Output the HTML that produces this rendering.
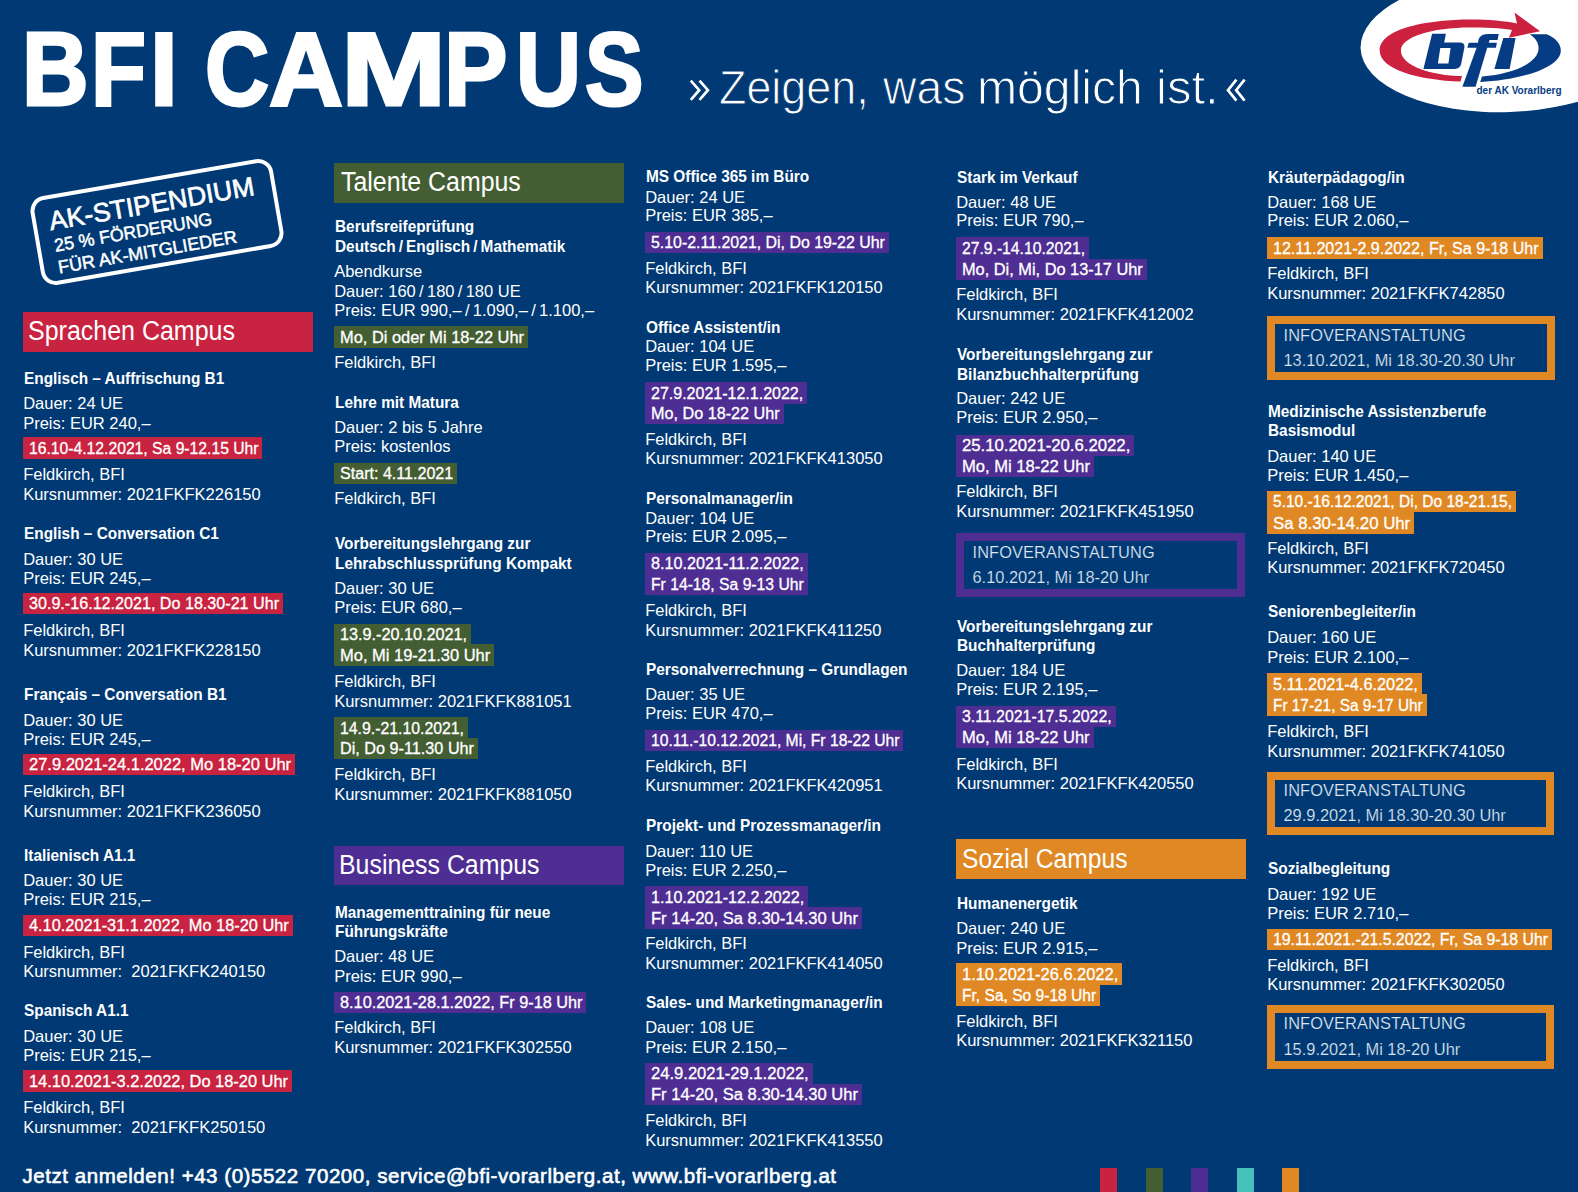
<!DOCTYPE html>
<html><head><meta charset="utf-8"><title>BFI Campus</title>
<style>
html,body{margin:0;padding:0;}
body{width:1578px;height:1192px;overflow:hidden;position:relative;background:#003973;font-family:"Liberation Sans",sans-serif;color:#fff;}
.t{position:absolute;white-space:pre;transform-origin:0 0;}
.b{position:absolute;}
</style></head><body>
<div class="b" style="left:22.60px;top:312.00px;width:290.00px;height:39.60px;background:#c82341;"></div>
<div class="t" style="left:27.88px;top:317.94px;font-size:27px;line-height:27px;transform:scaleX(0.9256);">Sprachen Campus</div>
<div class="t" style="left:23.50px;top:369.63px;font-size:16.5px;line-height:16.5px;font-weight:bold;transform:scaleX(0.9320);">Englisch – Auffrischung B1</div>
<div class="t" style="left:23.15px;top:394.63px;font-size:16.5px;line-height:16.5px;">Dauer: 24 UE</div>
<div class="t" style="left:23.15px;top:414.63px;font-size:16.5px;line-height:16.5px;">Preis: EUR 240,–</div>
<div class="b" style="left:22.80px;top:437.40px;width:239.70px;height:21.60px;background:#c82341;"></div>
<div class="t" style="left:29.00px;top:440.96px;font-size:16.0px;line-height:16.0px;transform:scaleX(0.9811);-webkit-text-stroke:0.3px #fff;">16.10-4.12.2021, Sa 9-12.15 Uhr</div>
<div class="t" style="left:23.15px;top:466.13px;font-size:16.5px;line-height:16.5px;">Feldkirch, BFI</div>
<div class="t" style="left:23.15px;top:485.63px;font-size:16.5px;line-height:16.5px;">Kursnummer: 2021FKFK226150</div>
<div class="t" style="left:23.50px;top:525.13px;font-size:16.5px;line-height:16.5px;font-weight:bold;transform:scaleX(0.9320);">English – Conversation C1</div>
<div class="t" style="left:23.15px;top:550.63px;font-size:16.5px;line-height:16.5px;">Dauer: 30 UE</div>
<div class="t" style="left:23.15px;top:569.63px;font-size:16.5px;line-height:16.5px;">Preis: EUR 245,–</div>
<div class="b" style="left:22.80px;top:592.90px;width:260.20px;height:21.60px;background:#c82341;"></div>
<div class="t" style="left:29.00px;top:596.46px;font-size:16.0px;line-height:16.0px;transform:scaleX(1.0075);-webkit-text-stroke:0.3px #fff;">30.9.-16.12.2021, Do 18.30-21 Uhr</div>
<div class="t" style="left:23.15px;top:622.13px;font-size:16.5px;line-height:16.5px;">Feldkirch, BFI</div>
<div class="t" style="left:23.15px;top:641.63px;font-size:16.5px;line-height:16.5px;">Kursnummer: 2021FKFK228150</div>
<div class="t" style="left:23.50px;top:686.13px;font-size:16.5px;line-height:16.5px;font-weight:bold;transform:scaleX(0.9320);">Français – Conversation B1</div>
<div class="t" style="left:23.15px;top:711.63px;font-size:16.5px;line-height:16.5px;">Dauer: 30 UE</div>
<div class="t" style="left:23.15px;top:730.63px;font-size:16.5px;line-height:16.5px;">Preis: EUR 245,–</div>
<div class="b" style="left:22.80px;top:753.90px;width:272.20px;height:21.60px;background:#c82341;"></div>
<div class="t" style="left:29.00px;top:757.46px;font-size:16.0px;line-height:16.0px;transform:scaleX(1.0300);-webkit-text-stroke:0.3px #fff;">27.9.2021-24.1.2022, Mo 18-20 Uhr</div>
<div class="t" style="left:23.15px;top:783.13px;font-size:16.5px;line-height:16.5px;">Feldkirch, BFI</div>
<div class="t" style="left:23.15px;top:802.63px;font-size:16.5px;line-height:16.5px;">Kursnummer: 2021FKFK236050</div>
<div class="t" style="left:23.50px;top:847.13px;font-size:16.5px;line-height:16.5px;font-weight:bold;transform:scaleX(0.9320);">Italienisch A1.1</div>
<div class="t" style="left:23.15px;top:872.23px;font-size:16.5px;line-height:16.5px;">Dauer: 30 UE</div>
<div class="t" style="left:23.15px;top:891.23px;font-size:16.5px;line-height:16.5px;">Preis: EUR 215,–</div>
<div class="b" style="left:22.80px;top:914.90px;width:269.90px;height:21.60px;background:#c82341;"></div>
<div class="t" style="left:29.00px;top:918.46px;font-size:16.0px;line-height:16.0px;transform:scaleX(1.0209);-webkit-text-stroke:0.3px #fff;">4.10.2021-31.1.2022, Mo 18-20 Uhr</div>
<div class="t" style="left:23.15px;top:943.63px;font-size:16.5px;line-height:16.5px;">Feldkirch, BFI</div>
<div class="t" style="left:23.15px;top:963.33px;font-size:16.5px;line-height:16.5px;">Kursnummer:  2021FKFK240150</div>
<div class="t" style="left:23.50px;top:1002.13px;font-size:16.5px;line-height:16.5px;font-weight:bold;transform:scaleX(0.9320);">Spanisch A1.1</div>
<div class="t" style="left:23.15px;top:1027.63px;font-size:16.5px;line-height:16.5px;">Dauer: 30 UE</div>
<div class="t" style="left:23.15px;top:1047.13px;font-size:16.5px;line-height:16.5px;">Preis: EUR 215,–</div>
<div class="b" style="left:22.80px;top:1070.40px;width:269.20px;height:21.60px;background:#c82341;"></div>
<div class="t" style="left:29.00px;top:1073.96px;font-size:16.0px;line-height:16.0px;transform:scaleX(1.0253);-webkit-text-stroke:0.3px #fff;">14.10.2021-3.2.2022, Do 18-20 Uhr</div>
<div class="t" style="left:23.15px;top:1098.83px;font-size:16.5px;line-height:16.5px;">Feldkirch, BFI</div>
<div class="t" style="left:23.15px;top:1118.63px;font-size:16.5px;line-height:16.5px;">Kursnummer:  2021FKFK250150</div>
<div class="b" style="left:333.60px;top:163.00px;width:290.00px;height:39.60px;background:#445e34;"></div>
<div class="t" style="left:341.30px;top:169.14px;font-size:27px;line-height:27px;transform:scaleX(0.9212);">Talente Campus</div>
<div class="t" style="left:334.50px;top:218.43px;font-size:16.5px;line-height:16.5px;font-weight:bold;transform:scaleX(0.9320);">Berufsreifeprüfung</div>
<div class="t" style="left:334.50px;top:238.13px;font-size:16.5px;line-height:16.5px;font-weight:bold;transform:scaleX(0.9320);">Deutsch / Englisch / Mathematik</div>
<div class="t" style="left:334.15px;top:262.63px;font-size:16.5px;line-height:16.5px;">Abendkurse</div>
<div class="t" style="left:334.15px;top:282.63px;font-size:16.5px;line-height:16.5px;">Dauer: 160 / 180 / 180 UE</div>
<div class="t" style="left:334.15px;top:301.83px;font-size:16.5px;line-height:16.5px;">Preis: EUR 990,– / 1.090,– / 1.100,–</div>
<div class="b" style="left:333.80px;top:326.40px;width:194.20px;height:21.60px;background:#445e34;"></div>
<div class="t" style="left:340.00px;top:329.96px;font-size:16.0px;line-height:16.0px;transform:scaleX(1.0245);-webkit-text-stroke:0.3px #fff;">Mo, Di oder Mi 18-22 Uhr</div>
<div class="t" style="left:334.15px;top:354.13px;font-size:16.5px;line-height:16.5px;">Feldkirch, BFI</div>
<div class="t" style="left:334.50px;top:394.13px;font-size:16.5px;line-height:16.5px;font-weight:bold;transform:scaleX(0.9320);">Lehre mit Matura</div>
<div class="t" style="left:334.15px;top:419.03px;font-size:16.5px;line-height:16.5px;">Dauer: 2 bis 5 Jahre</div>
<div class="t" style="left:334.15px;top:438.33px;font-size:16.5px;line-height:16.5px;">Preis: kostenlos</div>
<div class="b" style="left:333.80px;top:462.90px;width:123.40px;height:21.60px;background:#445e34;"></div>
<div class="t" style="left:340.00px;top:466.46px;font-size:16.0px;line-height:16.0px;transform:scaleX(1.0048);-webkit-text-stroke:0.3px #fff;">Start: 4.11.2021</div>
<div class="t" style="left:334.15px;top:490.43px;font-size:16.5px;line-height:16.5px;">Feldkirch, BFI</div>
<div class="t" style="left:334.50px;top:534.83px;font-size:16.5px;line-height:16.5px;font-weight:bold;transform:scaleX(0.9320);">Vorbereitungslehrgang zur</div>
<div class="t" style="left:334.50px;top:554.93px;font-size:16.5px;line-height:16.5px;font-weight:bold;transform:scaleX(0.9320);">Lehrabschlussprüfung Kompakt</div>
<div class="t" style="left:334.15px;top:579.63px;font-size:16.5px;line-height:16.5px;">Dauer: 30 UE</div>
<div class="t" style="left:334.15px;top:599.23px;font-size:16.5px;line-height:16.5px;">Preis: EUR 680,–</div>
<div class="b" style="left:333.80px;top:623.70px;width:137.20px;height:21.60px;background:#445e34;"></div>
<div class="t" style="left:340.00px;top:627.26px;font-size:16.0px;line-height:16.0px;transform:scaleX(1.0126);-webkit-text-stroke:0.3px #fff;">13.9.-20.10.2021,</div>
<div class="b" style="left:333.80px;top:644.40px;width:160.40px;height:21.60px;background:#445e34;"></div>
<div class="t" style="left:340.00px;top:647.96px;font-size:16.0px;line-height:16.0px;transform:scaleX(1.0300);-webkit-text-stroke:0.3px #fff;">Mo, Mi 19-21.30 Uhr</div>
<div class="t" style="left:334.15px;top:673.23px;font-size:16.5px;line-height:16.5px;">Feldkirch, BFI</div>
<div class="t" style="left:334.15px;top:692.93px;font-size:16.5px;line-height:16.5px;">Kursnummer: 2021FKFK881051</div>
<div class="b" style="left:333.80px;top:717.40px;width:134.20px;height:21.60px;background:#445e34;"></div>
<div class="t" style="left:340.00px;top:720.96px;font-size:16.0px;line-height:16.0px;transform:scaleX(0.9886);-webkit-text-stroke:0.3px #fff;">14.9.-21.10.2021,</div>
<div class="b" style="left:333.80px;top:737.90px;width:144.20px;height:21.60px;background:#445e34;"></div>
<div class="t" style="left:340.00px;top:741.46px;font-size:16.0px;line-height:16.0px;transform:scaleX(1.0137);-webkit-text-stroke:0.3px #fff;">Di, Do 9-11.30 Uhr</div>
<div class="t" style="left:334.15px;top:766.43px;font-size:16.5px;line-height:16.5px;">Feldkirch, BFI</div>
<div class="t" style="left:334.15px;top:786.03px;font-size:16.5px;line-height:16.5px;">Kursnummer: 2021FKFK881050</div>
<div class="b" style="left:333.60px;top:845.70px;width:290.00px;height:39.60px;background:#4e2e92;"></div>
<div class="t" style="left:339.31px;top:851.84px;font-size:27px;line-height:27px;transform:scaleX(0.9216);">Business Campus</div>
<div class="t" style="left:334.50px;top:903.63px;font-size:16.5px;line-height:16.5px;font-weight:bold;transform:scaleX(0.9320);">Managementtraining für neue</div>
<div class="t" style="left:334.50px;top:922.63px;font-size:16.5px;line-height:16.5px;font-weight:bold;transform:scaleX(0.9320);">Führungskräfte</div>
<div class="t" style="left:334.15px;top:948.43px;font-size:16.5px;line-height:16.5px;">Dauer: 48 UE</div>
<div class="t" style="left:334.15px;top:967.63px;font-size:16.5px;line-height:16.5px;">Preis: EUR 990,–</div>
<div class="b" style="left:333.80px;top:991.90px;width:252.70px;height:21.60px;background:#4e2e92;"></div>
<div class="t" style="left:340.00px;top:995.46px;font-size:16.0px;line-height:16.0px;transform:scaleX(1.0174);-webkit-text-stroke:0.3px #fff;">8.10.2021-28.1.2022, Fr 9-18 Uhr</div>
<div class="t" style="left:334.15px;top:1019.23px;font-size:16.5px;line-height:16.5px;">Feldkirch, BFI</div>
<div class="t" style="left:334.15px;top:1038.93px;font-size:16.5px;line-height:16.5px;">Kursnummer: 2021FKFK302550</div>
<div class="t" style="left:645.50px;top:168.43px;font-size:16.5px;line-height:16.5px;font-weight:bold;transform:scaleX(0.9320);">MS Office 365 im Büro</div>
<div class="t" style="left:645.15px;top:188.63px;font-size:16.5px;line-height:16.5px;">Dauer: 24 UE</div>
<div class="t" style="left:645.15px;top:207.23px;font-size:16.5px;line-height:16.5px;">Preis: EUR 385,–</div>
<div class="b" style="left:644.80px;top:231.90px;width:244.00px;height:21.60px;background:#4e2e92;"></div>
<div class="t" style="left:651.00px;top:235.46px;font-size:16.0px;line-height:16.0px;transform:scaleX(0.9933);-webkit-text-stroke:0.3px #fff;">5.10-2.11.2021, Di, Do 19-22 Uhr</div>
<div class="t" style="left:645.15px;top:259.83px;font-size:16.5px;line-height:16.5px;">Feldkirch, BFI</div>
<div class="t" style="left:645.15px;top:279.23px;font-size:16.5px;line-height:16.5px;">Kursnummer: 2021FKFK120150</div>
<div class="t" style="left:645.50px;top:318.73px;font-size:16.5px;line-height:16.5px;font-weight:bold;transform:scaleX(0.9320);">Office Assistent/in</div>
<div class="t" style="left:645.15px;top:338.13px;font-size:16.5px;line-height:16.5px;">Dauer: 104 UE</div>
<div class="t" style="left:645.15px;top:356.63px;font-size:16.5px;line-height:16.5px;">Preis: EUR 1.595,–</div>
<div class="b" style="left:644.80px;top:382.00px;width:162.40px;height:21.60px;background:#4e2e92;"></div>
<div class="t" style="left:651.00px;top:385.56px;font-size:16.0px;line-height:16.0px;transform:scaleX(1.0005);-webkit-text-stroke:0.3px #fff;">27.9.2021-12.1.2022,</div>
<div class="b" style="left:644.80px;top:402.90px;width:138.80px;height:21.60px;background:#4e2e92;"></div>
<div class="t" style="left:651.00px;top:406.46px;font-size:16.0px;line-height:16.0px;transform:scaleX(1.0114);-webkit-text-stroke:0.3px #fff;">Mo, Do 18-22 Uhr</div>
<div class="t" style="left:645.15px;top:430.63px;font-size:16.5px;line-height:16.5px;">Feldkirch, BFI</div>
<div class="t" style="left:645.15px;top:450.23px;font-size:16.5px;line-height:16.5px;">Kursnummer: 2021FKFK413050</div>
<div class="t" style="left:645.50px;top:490.13px;font-size:16.5px;line-height:16.5px;font-weight:bold;transform:scaleX(0.9320);">Personalmanager/in</div>
<div class="t" style="left:645.15px;top:509.63px;font-size:16.5px;line-height:16.5px;">Dauer: 104 UE</div>
<div class="t" style="left:645.15px;top:528.13px;font-size:16.5px;line-height:16.5px;">Preis: EUR 2.095,–</div>
<div class="b" style="left:644.80px;top:552.90px;width:162.90px;height:21.60px;background:#4e2e92;"></div>
<div class="t" style="left:651.00px;top:556.46px;font-size:16.0px;line-height:16.0px;transform:scaleX(1.0117);-webkit-text-stroke:0.3px #fff;">8.10.2021-11.2.2022,</div>
<div class="b" style="left:644.80px;top:573.90px;width:162.90px;height:21.60px;background:#4e2e92;"></div>
<div class="t" style="left:651.00px;top:577.46px;font-size:16.0px;line-height:16.0px;transform:scaleX(0.9813);-webkit-text-stroke:0.3px #fff;">Fr 14-18, Sa 9-13 Uhr</div>
<div class="t" style="left:645.15px;top:602.23px;font-size:16.5px;line-height:16.5px;">Feldkirch, BFI</div>
<div class="t" style="left:645.15px;top:622.23px;font-size:16.5px;line-height:16.5px;">Kursnummer: 2021FKFK411250</div>
<div class="t" style="left:645.50px;top:660.93px;font-size:16.5px;line-height:16.5px;font-weight:bold;transform:scaleX(0.9320);">Personalverrechnung – Grundlagen</div>
<div class="t" style="left:645.15px;top:685.83px;font-size:16.5px;line-height:16.5px;">Dauer: 35 UE</div>
<div class="t" style="left:645.15px;top:705.23px;font-size:16.5px;line-height:16.5px;">Preis: EUR 470,–</div>
<div class="b" style="left:644.80px;top:729.90px;width:258.70px;height:21.60px;background:#4e2e92;"></div>
<div class="t" style="left:651.00px;top:733.46px;font-size:16.0px;line-height:16.0px;transform:scaleX(0.9782);-webkit-text-stroke:0.3px #fff;">10.11.-10.12.2021, Mi, Fr 18-22 Uhr</div>
<div class="t" style="left:645.15px;top:757.83px;font-size:16.5px;line-height:16.5px;">Feldkirch, BFI</div>
<div class="t" style="left:645.15px;top:777.23px;font-size:16.5px;line-height:16.5px;">Kursnummer: 2021FKFK420951</div>
<div class="t" style="left:645.50px;top:816.83px;font-size:16.5px;line-height:16.5px;font-weight:bold;transform:scaleX(0.9320);">Projekt- und Prozessmanager/in</div>
<div class="t" style="left:645.15px;top:842.53px;font-size:16.5px;line-height:16.5px;">Dauer: 110 UE</div>
<div class="t" style="left:645.15px;top:861.53px;font-size:16.5px;line-height:16.5px;">Preis: EUR 2.250,–</div>
<div class="b" style="left:644.80px;top:886.40px;width:163.40px;height:21.60px;background:#4e2e92;"></div>
<div class="t" style="left:651.00px;top:889.96px;font-size:16.0px;line-height:16.0px;transform:scaleX(1.0071);-webkit-text-stroke:0.3px #fff;">1.10.2021-12.2.2022,</div>
<div class="b" style="left:644.80px;top:907.40px;width:217.20px;height:21.60px;background:#4e2e92;"></div>
<div class="t" style="left:651.00px;top:910.96px;font-size:16.0px;line-height:16.0px;transform:scaleX(1.0345);-webkit-text-stroke:0.3px #fff;">Fr 14-20, Sa 8.30-14.30 Uhr</div>
<div class="t" style="left:645.15px;top:935.23px;font-size:16.5px;line-height:16.5px;">Feldkirch, BFI</div>
<div class="t" style="left:645.15px;top:955.13px;font-size:16.5px;line-height:16.5px;">Kursnummer: 2021FKFK414050</div>
<div class="t" style="left:645.50px;top:994.43px;font-size:16.5px;line-height:16.5px;font-weight:bold;transform:scaleX(0.9320);">Sales- und Marketingmanager/in</div>
<div class="t" style="left:645.15px;top:1019.23px;font-size:16.5px;line-height:16.5px;">Dauer: 108 UE</div>
<div class="t" style="left:645.15px;top:1038.83px;font-size:16.5px;line-height:16.5px;">Preis: EUR 2.150,–</div>
<div class="b" style="left:644.80px;top:1062.90px;width:167.90px;height:21.60px;background:#4e2e92;"></div>
<div class="t" style="left:651.00px;top:1066.46px;font-size:16.0px;line-height:16.0px;transform:scaleX(1.0367);-webkit-text-stroke:0.3px #fff;">24.9.2021-29.1.2022,</div>
<div class="b" style="left:644.80px;top:1083.90px;width:217.20px;height:21.60px;background:#4e2e92;"></div>
<div class="t" style="left:651.00px;top:1087.46px;font-size:16.0px;line-height:16.0px;transform:scaleX(1.0345);-webkit-text-stroke:0.3px #fff;">Fr 14-20, Sa 8.30-14.30 Uhr</div>
<div class="t" style="left:645.15px;top:1112.23px;font-size:16.5px;line-height:16.5px;">Feldkirch, BFI</div>
<div class="t" style="left:645.15px;top:1131.83px;font-size:16.5px;line-height:16.5px;">Kursnummer: 2021FKFK413550</div>
<div class="t" style="left:956.50px;top:168.63px;font-size:16.5px;line-height:16.5px;font-weight:bold;transform:scaleX(0.9320);">Stark im Verkauf</div>
<div class="t" style="left:956.15px;top:194.03px;font-size:16.5px;line-height:16.5px;">Dauer: 48 UE</div>
<div class="t" style="left:956.15px;top:212.13px;font-size:16.5px;line-height:16.5px;">Preis: EUR 790,–</div>
<div class="b" style="left:955.80px;top:237.40px;width:133.20px;height:21.60px;background:#4e2e92;"></div>
<div class="t" style="left:962.00px;top:240.96px;font-size:16.0px;line-height:16.0px;transform:scaleX(0.9807);-webkit-text-stroke:0.3px #fff;">27.9.-14.10.2021,</div>
<div class="b" style="left:955.80px;top:258.70px;width:191.00px;height:21.60px;background:#4e2e92;"></div>
<div class="t" style="left:962.00px;top:262.26px;font-size:16.0px;line-height:16.0px;transform:scaleX(1.0219);-webkit-text-stroke:0.3px #fff;">Mo, Di, Mi, Do 13-17 Uhr</div>
<div class="t" style="left:956.15px;top:286.13px;font-size:16.5px;line-height:16.5px;">Feldkirch, BFI</div>
<div class="t" style="left:956.15px;top:306.13px;font-size:16.5px;line-height:16.5px;">Kursnummer: 2021FKFK412002</div>
<div class="t" style="left:956.50px;top:345.93px;font-size:16.5px;line-height:16.5px;font-weight:bold;transform:scaleX(0.9320);">Vorbereitungslehrgang zur</div>
<div class="t" style="left:956.50px;top:365.93px;font-size:16.5px;line-height:16.5px;font-weight:bold;transform:scaleX(0.9320);">Bilanzbuchhalterprüfung</div>
<div class="t" style="left:956.15px;top:390.23px;font-size:16.5px;line-height:16.5px;">Dauer: 242 UE</div>
<div class="t" style="left:956.15px;top:409.13px;font-size:16.5px;line-height:16.5px;">Preis: EUR 2.950,–</div>
<div class="b" style="left:955.80px;top:434.90px;width:178.50px;height:21.60px;background:#4e2e92;"></div>
<div class="t" style="left:962.00px;top:438.46px;font-size:16.0px;line-height:16.0px;transform:scaleX(1.0452);-webkit-text-stroke:0.3px #fff;">25.10.2021-20.6.2022,</div>
<div class="b" style="left:955.80px;top:455.40px;width:138.20px;height:21.60px;background:#4e2e92;"></div>
<div class="t" style="left:962.00px;top:458.96px;font-size:16.0px;line-height:16.0px;transform:scaleX(1.0357);-webkit-text-stroke:0.3px #fff;">Mo, Mi 18-22 Uhr</div>
<div class="t" style="left:956.15px;top:483.03px;font-size:16.5px;line-height:16.5px;">Feldkirch, BFI</div>
<div class="t" style="left:956.15px;top:502.63px;font-size:16.5px;line-height:16.5px;">Kursnummer: 2021FKFK451950</div>
<div class="b" style="left:955.50px;top:533.30px;width:273.50px;height:47.70px;border:8px solid #4e2e92;"></div>
<div class="t" style="left:972.50px;top:543.62px;font-size:16.4px;line-height:16.4px;color:#dfe7f2;-webkit-text-stroke:0.2px #003973;letter-spacing:0.1px;">INFOVERANSTALTUNG</div>
<div class="t" style="left:972.50px;top:568.62px;font-size:16.4px;line-height:16.4px;color:#dfe7f2;-webkit-text-stroke:0.2px #003973;">6.10.2021, Mi 18-20 Uhr</div>
<div class="t" style="left:956.50px;top:617.53px;font-size:16.5px;line-height:16.5px;font-weight:bold;transform:scaleX(0.9320);">Vorbereitungslehrgang zur</div>
<div class="t" style="left:956.50px;top:637.13px;font-size:16.5px;line-height:16.5px;font-weight:bold;transform:scaleX(0.9320);">Buchhalterprüfung</div>
<div class="t" style="left:956.15px;top:661.93px;font-size:16.5px;line-height:16.5px;">Dauer: 184 UE</div>
<div class="t" style="left:956.15px;top:681.23px;font-size:16.5px;line-height:16.5px;">Preis: EUR 2.195,–</div>
<div class="b" style="left:955.80px;top:705.90px;width:159.80px;height:21.60px;background:#4e2e92;"></div>
<div class="t" style="left:962.00px;top:709.46px;font-size:16.0px;line-height:16.0px;transform:scaleX(0.9912);-webkit-text-stroke:0.3px #fff;">3.11.2021-17.5.2022,</div>
<div class="b" style="left:955.80px;top:726.90px;width:137.80px;height:21.60px;background:#4e2e92;"></div>
<div class="t" style="left:962.00px;top:730.46px;font-size:16.0px;line-height:16.0px;transform:scaleX(1.0325);-webkit-text-stroke:0.3px #fff;">Mo, Mi 18-22 Uhr</div>
<div class="t" style="left:956.15px;top:756.43px;font-size:16.5px;line-height:16.5px;">Feldkirch, BFI</div>
<div class="t" style="left:956.15px;top:775.13px;font-size:16.5px;line-height:16.5px;">Kursnummer: 2021FKFK420550</div>
<div class="b" style="left:955.60px;top:839.30px;width:290.00px;height:39.60px;background:#e08823;"></div>
<div class="t" style="left:961.99px;top:845.84px;font-size:27px;line-height:27px;transform:scaleX(0.9113);">Sozial Campus</div>
<div class="t" style="left:956.50px;top:895.43px;font-size:16.5px;line-height:16.5px;font-weight:bold;transform:scaleX(0.9320);">Humanenergetik</div>
<div class="t" style="left:956.15px;top:920.43px;font-size:16.5px;line-height:16.5px;">Dauer: 240 UE</div>
<div class="t" style="left:956.15px;top:939.63px;font-size:16.5px;line-height:16.5px;">Preis: EUR 2.915,–</div>
<div class="b" style="left:955.80px;top:963.40px;width:166.40px;height:21.60px;background:#e08823;"></div>
<div class="t" style="left:962.00px;top:966.96px;font-size:16.0px;line-height:16.0px;transform:scaleX(1.0268);-webkit-text-stroke:0.3px #fff;">1.10.2021-26.6.2022,</div>
<div class="b" style="left:955.80px;top:984.70px;width:144.40px;height:21.60px;background:#e08823;"></div>
<div class="t" style="left:962.00px;top:988.26px;font-size:16.0px;line-height:16.0px;transform:scaleX(0.9737);-webkit-text-stroke:0.3px #fff;">Fr, Sa, So 9-18 Uhr</div>
<div class="t" style="left:956.15px;top:1013.13px;font-size:16.5px;line-height:16.5px;">Feldkirch, BFI</div>
<div class="t" style="left:956.15px;top:1032.43px;font-size:16.5px;line-height:16.5px;">Kursnummer: 2021FKFK321150</div>
<div class="t" style="left:1267.50px;top:168.63px;font-size:16.5px;line-height:16.5px;font-weight:bold;transform:scaleX(0.9320);">Kräuterpädagog/in</div>
<div class="t" style="left:1267.15px;top:194.03px;font-size:16.5px;line-height:16.5px;">Dauer: 168 UE</div>
<div class="t" style="left:1267.15px;top:212.13px;font-size:16.5px;line-height:16.5px;">Preis: EUR 2.060,–</div>
<div class="b" style="left:1266.80px;top:237.20px;width:275.80px;height:21.60px;background:#e08823;"></div>
<div class="t" style="left:1273.00px;top:240.76px;font-size:16.0px;line-height:16.0px;transform:scaleX(1.0032);-webkit-text-stroke:0.3px #fff;">12.11.2021-2.9.2022, Fr, Sa 9-18 Uhr</div>
<div class="t" style="left:1267.15px;top:265.03px;font-size:16.5px;line-height:16.5px;">Feldkirch, BFI</div>
<div class="t" style="left:1267.15px;top:285.03px;font-size:16.5px;line-height:16.5px;">Kursnummer: 2021FKFK742850</div>
<div class="b" style="left:1266.50px;top:316.00px;width:272.50px;height:47.50px;border:8px solid #e08823;"></div>
<div class="t" style="left:1283.50px;top:326.72px;font-size:16.4px;line-height:16.4px;color:#dfe7f2;-webkit-text-stroke:0.2px #003973;letter-spacing:0.1px;">INFOVERANSTALTUNG</div>
<div class="t" style="left:1283.50px;top:351.62px;font-size:16.4px;line-height:16.4px;color:#dfe7f2;-webkit-text-stroke:0.2px #003973;">13.10.2021, Mi 18.30-20.30 Uhr</div>
<div class="t" style="left:1267.50px;top:402.63px;font-size:16.5px;line-height:16.5px;font-weight:bold;transform:scaleX(0.9320);">Medizinische Assistenzberufe</div>
<div class="t" style="left:1267.50px;top:422.13px;font-size:16.5px;line-height:16.5px;font-weight:bold;transform:scaleX(0.9320);">Basismodul</div>
<div class="t" style="left:1267.15px;top:448.03px;font-size:16.5px;line-height:16.5px;">Dauer: 140 UE</div>
<div class="t" style="left:1267.15px;top:466.93px;font-size:16.5px;line-height:16.5px;">Preis: EUR 1.450,–</div>
<div class="b" style="left:1266.80px;top:490.70px;width:249.20px;height:21.60px;background:#e08823;"></div>
<div class="t" style="left:1273.00px;top:494.26px;font-size:16.0px;line-height:16.0px;transform:scaleX(0.9701);-webkit-text-stroke:0.3px #fff;">5.10.-16.12.2021, Di, Do 18-21.15,</div>
<div class="b" style="left:1266.80px;top:512.10px;width:147.40px;height:21.60px;background:#e08823;"></div>
<div class="t" style="left:1273.00px;top:515.66px;font-size:16.0px;line-height:16.0px;transform:scaleX(1.0494);-webkit-text-stroke:0.3px #fff;">Sa 8.30-14.20 Uhr</div>
<div class="t" style="left:1267.15px;top:539.83px;font-size:16.5px;line-height:16.5px;">Feldkirch, BFI</div>
<div class="t" style="left:1267.15px;top:559.43px;font-size:16.5px;line-height:16.5px;">Kursnummer: 2021FKFK720450</div>
<div class="t" style="left:1267.50px;top:603.33px;font-size:16.5px;line-height:16.5px;font-weight:bold;transform:scaleX(0.9320);">Seniorenbegleiter/in</div>
<div class="t" style="left:1267.15px;top:629.13px;font-size:16.5px;line-height:16.5px;">Dauer: 160 UE</div>
<div class="t" style="left:1267.15px;top:648.63px;font-size:16.5px;line-height:16.5px;">Preis: EUR 2.100,–</div>
<div class="b" style="left:1266.80px;top:673.40px;width:155.00px;height:21.60px;background:#e08823;"></div>
<div class="t" style="left:1273.00px;top:676.96px;font-size:16.0px;line-height:16.0px;transform:scaleX(1.0195);-webkit-text-stroke:0.3px #fff;">5.11.2021-4.6.2022,</div>
<div class="b" style="left:1266.80px;top:694.40px;width:159.90px;height:21.60px;background:#e08823;"></div>
<div class="t" style="left:1273.00px;top:697.96px;font-size:16.0px;line-height:16.0px;transform:scaleX(0.9620);-webkit-text-stroke:0.3px #fff;">Fr 17-21, Sa 9-17 Uhr</div>
<div class="t" style="left:1267.15px;top:723.13px;font-size:16.5px;line-height:16.5px;">Feldkirch, BFI</div>
<div class="t" style="left:1267.15px;top:742.63px;font-size:16.5px;line-height:16.5px;">Kursnummer: 2021FKFK741050</div>
<div class="b" style="left:1266.50px;top:771.70px;width:271.50px;height:46.90px;border:8px solid #e08823;"></div>
<div class="t" style="left:1283.50px;top:781.62px;font-size:16.4px;line-height:16.4px;color:#dfe7f2;-webkit-text-stroke:0.2px #003973;letter-spacing:0.1px;">INFOVERANSTALTUNG</div>
<div class="t" style="left:1283.50px;top:807.12px;font-size:16.4px;line-height:16.4px;color:#dfe7f2;-webkit-text-stroke:0.2px #003973;">29.9.2021, Mi 18.30-20.30 Uhr</div>
<div class="t" style="left:1267.50px;top:860.23px;font-size:16.5px;line-height:16.5px;font-weight:bold;transform:scaleX(0.9320);">Sozialbegleitung</div>
<div class="t" style="left:1267.15px;top:885.63px;font-size:16.5px;line-height:16.5px;">Dauer: 192 UE</div>
<div class="t" style="left:1267.15px;top:905.43px;font-size:16.5px;line-height:16.5px;">Preis: EUR 2.710,–</div>
<div class="b" style="left:1266.80px;top:928.90px;width:285.20px;height:21.60px;background:#e08823;"></div>
<div class="t" style="left:1273.00px;top:932.46px;font-size:16.0px;line-height:16.0px;transform:scaleX(0.9889);-webkit-text-stroke:0.3px #fff;">19.11.2021.-21.5.2022, Fr, Sa 9-18 Uhr</div>
<div class="t" style="left:1267.15px;top:956.83px;font-size:16.5px;line-height:16.5px;">Feldkirch, BFI</div>
<div class="t" style="left:1267.15px;top:976.13px;font-size:16.5px;line-height:16.5px;">Kursnummer: 2021FKFK302050</div>
<div class="b" style="left:1266.50px;top:1005.00px;width:271.50px;height:47.80px;border:8px solid #e08823;"></div>
<div class="t" style="left:1283.50px;top:1015.12px;font-size:16.4px;line-height:16.4px;color:#dfe7f2;-webkit-text-stroke:0.2px #003973;letter-spacing:0.1px;">INFOVERANSTALTUNG</div>
<div class="t" style="left:1283.50px;top:1040.52px;font-size:16.4px;line-height:16.4px;color:#dfe7f2;-webkit-text-stroke:0.2px #003973;">15.9.2021, Mi 18-20 Uhr</div>
<div class="t" style="left:21.50px;top:16.88px;font-size:104.1px;line-height:104.1px;font-weight:bold;transform:scaleX(0.8861);-webkit-text-stroke:3.0px #fff;">B</div>
<div class="t" style="left:90.65px;top:16.88px;font-size:104.1px;line-height:104.1px;font-weight:bold;transform:scaleX(0.8646);-webkit-text-stroke:3.0px #fff;">F</div>
<div class="t" style="left:150.32px;top:16.88px;font-size:104.1px;line-height:104.1px;font-weight:bold;transform:scaleX(0.9574);-webkit-text-stroke:3.0px #fff;">I</div>
<div class="t" style="left:204.55px;top:16.88px;font-size:104.1px;line-height:104.1px;font-weight:bold;transform:scaleX(0.8536);-webkit-text-stroke:3.0px #fff;">C</div>
<div class="t" style="left:269.44px;top:16.88px;font-size:104.1px;line-height:104.1px;font-weight:bold;transform:scaleX(0.9842);-webkit-text-stroke:3.0px #fff;">A</div>
<div class="t" style="left:340.98px;top:16.88px;font-size:104.1px;line-height:104.1px;font-weight:bold;transform:scaleX(1.2143);-webkit-text-stroke:3.0px #fff;">M</div>
<div class="t" style="left:444.12px;top:16.88px;font-size:104.1px;line-height:104.1px;font-weight:bold;transform:scaleX(0.9134);-webkit-text-stroke:3.0px #fff;">P</div>
<div class="t" style="left:515.50px;top:16.88px;font-size:104.1px;line-height:104.1px;font-weight:bold;transform:scaleX(0.8642);-webkit-text-stroke:3.0px #fff;">U</div>
<div class="t" style="left:584.69px;top:16.88px;font-size:104.1px;line-height:104.1px;font-weight:bold;transform:scaleX(0.8418);-webkit-text-stroke:3.0px #fff;">S</div>
<div class="t" style="left:718.65px;top:63.67px;font-size:48px;line-height:48px;transform:scaleX(0.9350);-webkit-text-stroke:1.0px #003973;">Zeigen,</div>
<div class="t" style="left:882.62px;top:63.67px;font-size:48px;line-height:48px;transform:scaleX(0.9647);-webkit-text-stroke:1.0px #003973;">was</div>
<div class="t" style="left:976.87px;top:63.67px;font-size:48px;line-height:48px;transform:scaleX(1.0029);-webkit-text-stroke:1.0px #003973;">möglich</div>
<div class="t" style="left:1155.51px;top:63.67px;font-size:48px;line-height:48px;transform:scaleX(1.0226);-webkit-text-stroke:1.0px #003973;">ist.</div>
<div class="t" style="left:22.50px;top:1165.65px;font-size:20.5px;line-height:20.5px;-webkit-text-stroke:0.6px #fff;letter-spacing:0.545px;">Jetzt anmelden! +43 (0)5522 70200, service@bfi-vorarlberg.at, www.bfi-vorarlberg.at</div>
<div class="b" style="left:1100.00px;top:1168.00px;width:17.00px;height:30.00px;background:#c82341;"></div>
<div class="b" style="left:1145.50px;top:1168.00px;width:17.00px;height:30.00px;background:#445e34;"></div>
<div class="b" style="left:1191.00px;top:1168.00px;width:17.00px;height:30.00px;background:#4e2e92;"></div>
<div class="b" style="left:1236.50px;top:1168.00px;width:17.00px;height:30.00px;background:#45c1b9;"></div>
<div class="b" style="left:1282.00px;top:1168.00px;width:17.00px;height:30.00px;background:#e08823;"></div>
<div style="position:absolute;left:34px;top:177px;width:238px;height:82px;border:4px solid #fff;border-radius:15px;transform:rotate(-9.8deg);transform-origin:center;">
<div class="t" style="left:13px;top:8.5px;font-size:26.5px;line-height:26px;-webkit-text-stroke:0.7px #fff;transform:scaleX(1.0)">AK-STIPENDIUM</div>
<div class="t" style="left:14px;top:38px;font-size:18px;line-height:18px;-webkit-text-stroke:0.5px #fff;transform:scaleX(0.985)">25 % FÖRDERUNG</div>
<div class="t" style="left:14px;top:59.5px;font-size:18px;line-height:18px;-webkit-text-stroke:0.5px #fff;transform:scaleX(1.0)">FÜR AK-MITGLIEDER</div>
</div>
<svg style="position:absolute;left:0;top:0" width="1578" height="1192" viewBox="0 0 1578 1192">
<g fill="none" stroke="#fff" stroke-width="2.7" stroke-linejoin="miter" stroke-miterlimit="4">
<polyline points="690.8,80.6 699.2,90.2 690.8,99.8"/><polyline points="699.5,80.6 707.9,90.2 699.5,99.8"/>
<polyline points="1236.4,79.7 1228,90.2 1236.4,100.7"/><polyline points="1244.6,79.7 1236.2,90.2 1244.6,100.7"/>
</g>
<ellipse cx="1507.5" cy="43.4" rx="147" ry="68.7" transform="rotate(-2 1507.5 43.4)" fill="#ffffff"/>
<path d="M1460.5,81.5 C1420,80 1379.7,70 1379.7,50.4 C1379.7,28 1430,19.5 1470,19.5 C1490,19.5 1505,21 1517,23.5 L1514.5,12.6 L1540.1,31.2 L1508.9,37.8 L1512,30 C1500,28 1485,27.5 1470,27.5 C1432,27.5 1400.9,37 1400.9,50.4 C1400.9,66 1432,75.5 1462,76 Z" fill="#cd2140"/>
<path d="M1529.6,34.2 L1546.7,34.2 C1556,38 1560.8,44 1560.8,50.4 C1560.8,68 1520,80 1480.2,82 L1482,76.5 C1515,74 1538.6,62 1538.6,48.3 C1538.6,42 1535,37.5 1529.6,34.2 Z" fill="#063c84"/>
<path fill-rule="evenodd" d="M1432.1,33.7 L1445.9,33.7 L1444.2,42.6 L1459.5,42.6 Q1465.2,42.6 1464.4,47.5 L1461.2,63.8 Q1460.2,68.9 1454.8,68.9 L1423.4,68.9 Z M1440.3,48 L1450.6,48 L1448.4,63.6 L1437.9,63.6 Z" fill="#063c84"/>
<path d="M1462.4,86.7 L1475.6,86.7 L1487.2,47.7 L1495.9,47.7 L1496.9,42.8 L1488.7,42.8 L1489.6,40 L1497.6,40 L1498.7,34.1 L1487.5,34.1 Q1479.6,34.1 1478.4,40.6 L1477.9,42.8 L1468.7,42.8 L1467.3,47.7 L1476.6,47.7 Z" fill="#063c84"/>
<path d="M1503.3,37.9 L1515.6,37.9 L1509.6,68.9 L1494.4,68.9 Z" fill="#063c84"/>
<text x="1476.5" y="93.7" font-family="Liberation Sans" font-weight="bold" font-size="10" fill="#063c84" textLength="85" lengthAdjust="spacingAndGlyphs">der AK Vorarlberg</text>
</svg>
</body></html>
